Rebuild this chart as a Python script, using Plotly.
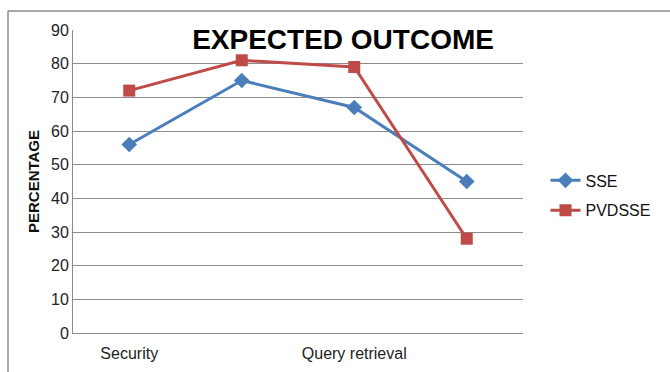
import plotly.graph_objects as go

positions = [0, 1, 2, 3]
tick_positions = [0, 2]
tick_labels = ["Security", "Query retrieval"]
sse = [56, 75, 67, 45]
pvdsse = [72, 81, 79, 28]
y_ticks = [0, 10, 20, 30, 40, 50, 60, 70, 80, 90]

FONT = "Liberation Sans, Arial, sans-serif"

fig = go.Figure()
fig.add_trace(go.Scatter(
    x=positions, y=sse, name="SSE", mode="lines+markers", legendgroup="g1",
    line=dict(color="#4A7EBB", width=3),
    marker=dict(symbol="diamond", size=12, color="#4A7EBB"),
))
fig.add_trace(go.Scatter(
    x=positions, y=pvdsse, name="PVDSSE", mode="lines+markers", legendgroup="g2",
    line=dict(color="#BE4B48", width=3),
    marker=dict(symbol="square", size=12, color="#BE4B48"),
))

fig.update_layout(
    width=670, height=372,
    margin=dict(l=73, r=147, t=30, b=39),
    paper_bgcolor="white", plot_bgcolor="white",
    font=dict(family=FONT, color="#000000"),
    title=dict(text="<b>EXPECTED OUTCOME</b>", x=0.512, xanchor="center",
               y=1 - 39 / 372, yanchor="middle", yref="container",
               font=dict(size=28, family=FONT, color="#000000")),
    xaxis=dict(range=[-0.5, 3.5], tickmode="array", tickvals=tick_positions,
               ticktext=tick_labels, showgrid=False, zeroline=False,
               showline=True, linecolor="#8C8C8C", linewidth=1,
               ticks="", ticklabelstandoff=6, automargin=False,
               tickfont=dict(size=16, color="#222222")),
    yaxis=dict(range=[0, 90], tickmode="array", tickvals=y_ticks,
               showgrid=True, gridcolor="#8C8C8C", gridwidth=1, zeroline=False,
               showline=True, linecolor="#8C8C8C", linewidth=1, automargin=False,
               ticks="", tickfont=dict(size=16, color="#222222"),
               title=dict(text="<b>PERCENTAGE</b>", standoff=7,
                          font=dict(size=15, color="#111111"))),
    legend=dict(x=1.05, y=0.454, xanchor="left", yanchor="middle",
                font=dict(size=16, color="#111111"), bgcolor="rgba(0,0,0,0)",
                itemwidth=30, tracegroupgap=6),
    showlegend=True,
)

# outer chart border (top and left edges visible)
x0 = (8 - 73) / 450
ytop = (333 - 11) / 303
fig.add_shape(type="line", xref="paper", yref="paper", x0=x0, x1=(670 - 73) / 450 + 0.01,
              y0=ytop, y1=ytop, line=dict(color="#8C8C8C", width=1.5))
fig.add_shape(type="line", xref="paper", yref="paper", x0=x0, x1=x0,
              y0=ytop, y1=-0.2, line=dict(color="#8C8C8C", width=1.5))

fig.write_html("out.html")
